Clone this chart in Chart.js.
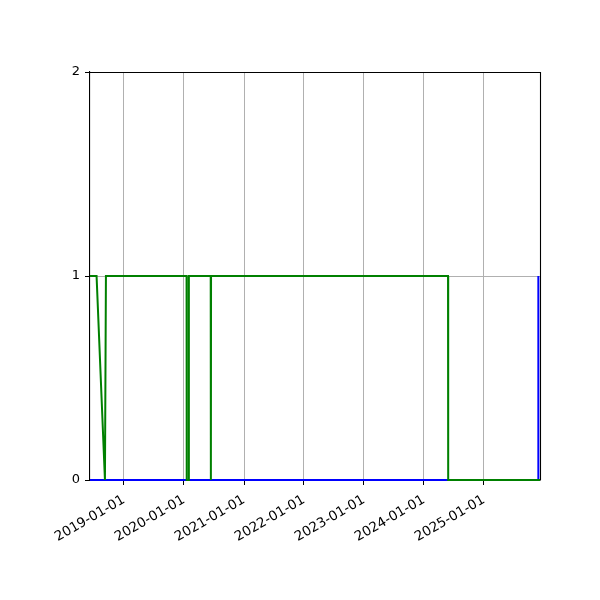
<!DOCTYPE html>
<html>
<head>
<meta charset="utf-8">
<script src="https://cdn.jsdelivr.net/npm/chart.js@4"></script>
<style>
html,body{margin:0;padding:0;background:#fff;}
#wrap{width:600px;height:600px;}
</style>
</head>
<body>
<div id="wrap"><canvas id="c" width="600" height="600"></canvas></div>
<script>
// ---- data ----
const greenDates = ['2018-06-08','2018-07-18','2018-09-07','2018-09-13','2020-01-17','2020-01-18','2020-01-30','2020-01-31','2020-06-12','2020-06-13','2020-06-14','2024-05-27','2024-05-28','2025-12-08'];
const greenValues = [1,1,0,1,1,0,0,1,1,0,1,1,0,0];
const blueDates = ['2018-06-08','2025-11-27','2025-11-28'];
const blueValues = [0,0,1];
const xTickDates = ['2019-01-01','2020-01-01','2021-01-01','2022-01-01','2023-01-01','2024-01-01','2025-01-01'];
const yTicks = [0,1,2];
const xStart = '2018-06-08';
const xEnd = '2025-12-08';

const toPts = (ds, vs) => ds.map((d,i) => ({x: Date.parse(d + 'T00:00:00Z'), y: vs[i]}));
const fmt = v => new Date(v).toISOString().slice(0,10);

const frame = {
  id: 'frame',
  afterDraw(chart) {
    const {ctx, chartArea: a} = chart;
    ctx.save();
    ctx.strokeStyle = '#000';
    ctx.lineWidth = 1.1;
    ctx.beginPath();
    ctx.moveTo(Math.round(a.left), Math.round(a.top) + 0.5);
    ctx.lineTo(Math.round(a.right) + 0.5, Math.round(a.top) + 0.5);
    ctx.lineTo(Math.round(a.right) + 0.5, Math.round(a.bottom) + 0.5);
    ctx.stroke();
    ctx.restore();
  }
};

Chart.defaults.font.family = 'DejaVu Sans';
Chart.defaults.font.size = 10;
Chart.defaults.color = '#000';

new Chart(document.getElementById('c'), {
  type: 'line',
  data: {
    datasets: [
      {data: toPts(greenDates, greenValues), borderColor: '#008000', borderWidth: 2, pointRadius: 0, tension: 0, fill: false, order: 0, clip: 2},
      {data: toPts(blueDates, blueValues), borderColor: '#0000ff', borderWidth: 2, pointRadius: 0, tension: 0, fill: false, order: 1, clip: 2}
    ]
  },
  options: {
    responsive: false,
    devicePixelRatio: 1,
    animation: false,
    layout: {padding: {left: 0, right: 60, top: 72, bottom: 0}},
    plugins: {legend: {display: false}, tooltip: {enabled: false}},
    scales: {
      x: {
        type: 'linear',
        min: Date.parse(xStart + 'T00:00:00Z'),
        max: Date.parse(xEnd + 'T00:00:00Z'),
        afterBuildTicks: s => { s.ticks = xTickDates.map(d => ({value: Date.parse(d + 'T00:00:00Z')})); },
        afterFit: s => { s.height = 120; },
        grid: {color: '#b0b0b0', lineWidth: 1, tickColor: '#000', tickLength: 5, drawOnChartArea: true},
        border: {display: true, color: '#000', width: 1.1},
        ticks: {autoSkip: false, minRotation: 30, maxRotation: 30, padding: 7, font: {size: 13.5}, callback: v => fmt(v)}
      },
      y: {
        min: 0, max: 2,
        afterBuildTicks: s => { s.ticks = yTicks.map(v => ({value: v})); },
        afterFit: s => { s.width = 90; },
        grid: {color: '#b0b0b0', lineWidth: 1, tickColor: '#000', tickLength: 5},
        border: {display: true, color: '#000', width: 1.1},
        ticks: {padding: 5, font: {size: 13}, callback: v => String(v)}
      }
    }
  },
  plugins: [frame]
});
</script>
</body>
</html>
